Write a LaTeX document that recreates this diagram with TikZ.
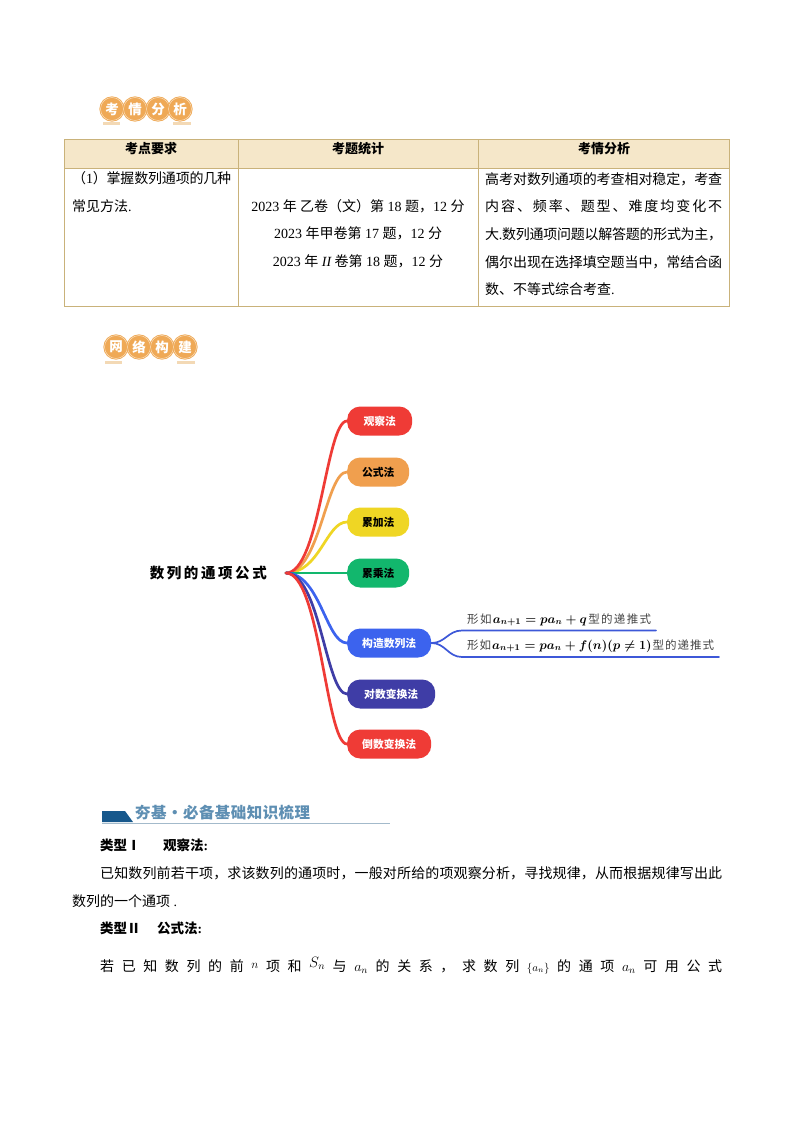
\documentclass[tikz,border=0pt]{standalone}
\usepackage{fix-cm}
\usepackage[no-math]{fontspec}
\usetikzlibrary{calc}
\setmainfont{Noto Sans CJK SC}
\newfontfamily\lat{Liberation Serif}
\makeatletter
\newcommand\spaced[2]{\makebox[#1][s]{\@tfor\sx:=#2\do{\sx\hskip 0pt plus 1fil minus .6pt}\unskip}}
\makeatother
\newcommand\mathat[2]{{\fontsize{#1}{#1}\selectfont$#2$}}
\newcommand\boldat[2]{{\fontsize{#1}{#1}\selectfont\boldmath$#2$}}
\definecolor{badge}{HTML}{EFA956}
\definecolor{badgebar}{HTML}{F3D9B5}
\definecolor{tabline}{HTML}{C9B27A}
\definecolor{tabhead}{HTML}{F5E7C9}
\definecolor{cred}{HTML}{EF3B36}
\definecolor{corange}{HTML}{F09F4E}
\definecolor{cyellow}{HTML}{EFD624}
\definecolor{cgreen}{HTML}{12B76D}
\definecolor{cblue}{HTML}{3C63EE}
\definecolor{cindigo}{HTML}{3F3DA6}
\definecolor{secblue}{HTML}{17588C}
\definecolor{sectext}{HTML}{5E8FB3}
\definecolor{secline}{HTML}{A3BACB}
\definecolor{subtext}{HTML}{444444}
\tikzset{
  txt/.style={anchor=base west,inner sep=0pt,font=\fontsize{14}{16}\selectfont},
  ctr/.style={anchor=base,inner sep=0pt,font=\fontsize{14}{16}\selectfont},
  coin/.style={circle,draw=badge,double=white!70!badge,double distance=.4pt,line width=.9pt,fill=badge,text=white,inner sep=0pt,minimum size=23pt,font=\fontsize{13.5}{13.5}\selectfont\bfseries},
  bar/.style={fill=badgebar,draw=none},
  tabrule/.style={draw=tabline,line width=1pt},
  pill/.style={rounded corners=13pt,inner sep=0pt,minimum height=29pt,anchor=west,font=\fontsize{10.8}{11}\selectfont\bfseries,text=white},
  branch/.style={line width=2.7pt,line cap=round},
  subbranch/.style={line width=1.7pt,draw=cblue!70!cindigo,line cap=round},
}
\begin{document}
\begin{tikzpicture}[x=1pt,y=-1pt]
\useasboundingbox (0,0) rectangle (794,1123);
\fill[white] (0,0) rectangle (794,1123);

% badge 1
\fill[bar] (103,122.5) rectangle (120,125.5);
\fill[bar] (173,122.5) rectangle (191,125.5);
\node[coin] (k1) at (112,109) {考};
\node[coin] (k2) at (135,109) {情};
\node[coin] (k3) at (158,109) {分};
\node[coin] (k4) at (180,109) {析};

% table
\fill[tabhead] (64.5,139.5) rectangle (729.5,169);
\draw[tabrule] (64.5,139.5) rectangle (729.5,306.5);
\draw[tabrule] (64.5,169) -- (729.5,169);
\draw[tabrule] (238,139.5) -- (238,306.5);
\draw[tabrule] (478,139.5) -- (478,306.5);
\node[ctr,font=\fontsize{13}{13}\selectfont\bfseries] (h1) at (151,154) {考点要求};
\node[ctr,font=\fontsize{13}{13}\selectfont\bfseries] (h2) at (358,154) {考题统计};
\node[ctr,font=\fontsize{13}{13}\selectfont\bfseries] (h3) at (604,154) {考情分析};

\node[txt] (a1) at (72,184) {\spaced{159pt}{（{{\lat 1}}）掌握数列通项的几种}};
\node[txt] (a2) at (72,212) {常见方法{\lat .}};

\node[ctr] (b1) at (358,212) {{\lat 2023 }年\ 乙卷（文）第{\lat\ 18 }题，{\lat 12 }分};
\node[ctr] (b2) at (358,239) {{\lat 2023 }年甲卷第{\lat\ 17 }题，{\lat 12 }分};
\node[ctr] (b3) at (358,266) {{\lat 2023 }年{\lat\ \itshape II }卷第{\lat\ 18 }题，{\lat 12 }分};

\node[txt] (c1) at (485,185) {\spaced{237pt}{高考对数列通项的考查相对稳定，考查}};
\node[txt] (c2) at (485,212) {\spaced{237pt}{内容、频率、题型、难度均变化不}};
\node[txt] (c3) at (485,240) {\spaced{237pt}{大{{\lat .}}数列通项问题以解答题的形式为主，}};
\node[txt] (c4) at (485,267) {\spaced{237pt}{偶尔出现在选择填空题当中，常结合函}};
\node[txt] (c5) at (485,294) {数、不等式综合考查{\lat .}};

% badge 2
\fill[bar] (105,360.5) rectangle (122,363.5);
\fill[bar] (177,360.5) rectangle (195,363.5);
\node[coin] (w1) at (116,347) {网};
\node[coin] (w2) at (139,347) {络};
\node[coin] (w3) at (162,347) {构};
\node[coin] (w4) at (185,347) {建};

% mind map
\node[anchor=east,inner sep=0pt,text width=136pt,font=\fontsize{14.5}{16}\selectfont\bfseries] (root) at (286,573) {\spaced{117pt}{数列的通项公式}};

\node[pill,fill=cred,minimum width=65pt] (m1) at (347,421) {观察法};
\node[pill,fill=corange,minimum width=62pt,text=black] (m2) at (347,472) {公式法};
\node[pill,fill=cyellow,minimum width=62pt,text=black] (m3) at (347,522) {累加法};
\node[pill,fill=cgreen,minimum width=62pt,text=black] (m4) at (347,573) {累乘法};
\node[pill,fill=cblue,minimum width=84pt] (m5) at (347,643) {构造数列法};
\node[pill,fill=cindigo,minimum width=88pt] (m6) at (347,694) {对数变换法};
\node[pill,fill=cred,minimum width=84pt] (m7) at (347,744) {倒数变换法};

\draw[branch,draw=cyellow] (root.east) .. controls +(34,0) and ($(m3.west)+(-21,0)$) .. (m3.west);
\draw[branch,draw=corange] (root.east) .. controls +(34,0) and ($(m2.west)+(-21,0)$) .. (m2.west);
\draw[branch,draw=cred] (root.east) .. controls +(34,0) and ($(m1.west)+(-21,0)$) .. (m1.west);
\draw[branch,draw=cgreen] (root.east) -- (m4.west);
\draw[branch,draw=cblue] (root.east) .. controls +(34,0) and ($(m5.west)+(-21,0)$) .. (m5.west);
\draw[branch,draw=cindigo] (root.east) .. controls +(34,0) and ($(m6.west)+(-21,0)$) .. (m6.west);
\draw[branch,draw=cred] (root.east) .. controls +(34,0) and ($(m7.west)+(-21,0)$) .. (m7.west);

\coordinate (s1) at (656,630.5);
\coordinate (s2) at (719,657);
\coordinate (s1a) at (462,630.5);
\coordinate (s2a) at (462,657);
\draw[subbranch] (m5.east) .. controls +(14,0) and ($(s1a)+(-14,0)$) .. (s1a) -- (s1);
\draw[subbranch] (m5.east) .. controls +(14,0) and ($(s2a)+(-14,0)$) .. (s2a) -- (s2);
\node[txt,text=subtext,font=\fontsize{11.5}{12}\selectfont] (t1) at (467,623) {\spaced{184pt}{形如{{\color{black}\boldat{12.5}{a_{n+1}=pa_n+q}}}型的递推式}};
\node[txt,text=subtext,font=\fontsize{11.5}{12}\selectfont] (t2) at (467,649) {\spaced{247pt}{形如{{\color{black}\boldat{12.5}{a_{n+1}=pa_n+f(n)(p\neq 1)}}}型的递推式}};

% section heading
\fill[secblue] (102,811) -- (125,811) -- (133,822) -- (102,822) -- cycle;
\draw[secline,line width=.8pt] (102,823.5) -- (390,823.5);
\node[txt,text=sectext,font=\fontsize{15.5}{16}\selectfont\bfseries] (sec) at (135,818) {\spaced{175pt}{夯基·必备基础知识梳理}};

% body
\node[txt,font=\fontsize{13.5}{14}\selectfont\bfseries] (l1a) at (100,850) {类型Ⅰ};
\node[txt,font=\fontsize{13.5}{14}\selectfont\bfseries] (l1b) at (163,850) {观察法{\lat :}};
\node[txt] (l2) at (100,878) {\spaced{622pt}{已知数列前若干项，求该数列的通项时，一般对所给的项观察分析，寻找规律，从而根据规律写出此}};
\node[txt] (l3) at (72,906) {数列的一个通项{\lat\ .}};
\node[txt,font=\fontsize{13.5}{14}\selectfont\bfseries] (l4a) at (100,933) {类型Ⅱ};
\node[txt,font=\fontsize{13.5}{14}\selectfont\bfseries] (l4b) at (157,933) {公式法{\lat :}};
\node[txt] (l5) at (100,971) {\spaced{622pt}{若已知数列的前{\raisebox{3pt}{\mathat{12}{n}}}项和{\raisebox{4pt}{\mathat{15}{S_n}}}与{\mathat{14}{a_n}}的关系，求数列{\mathat{11}{\{a_n\}}}的通项{\mathat{14}{a_n}}可用公式}};
\end{tikzpicture}
\end{document}
